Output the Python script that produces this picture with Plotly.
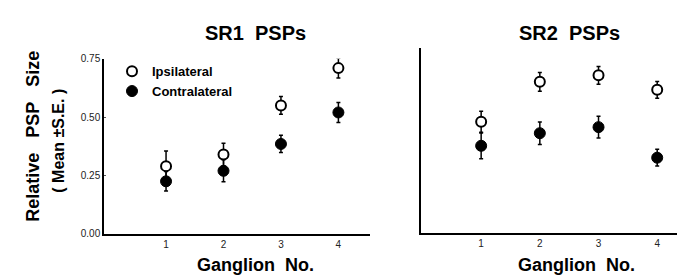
import plotly.graph_objects as go

ganglia = [1, 2, 3, 4]
tick_text = ["1", "2", "3", "4"]

sr1_ipsi = [0.29, 0.34, 0.55, 0.71]
sr1_ipsi_se = [0.065, 0.048, 0.038, 0.042]
sr1_contra = [0.225, 0.27, 0.385, 0.52]
sr1_contra_se = [0.042, 0.047, 0.037, 0.043]

sr2_ipsi = [0.476, 0.647, 0.675, 0.613]
sr2_ipsi_se = [0.045, 0.04, 0.038, 0.036]
sr2_contra = [0.373, 0.427, 0.453, 0.322]
sr2_contra_se = [0.055, 0.048, 0.047, 0.036]

W, H = 685, 275
FONT = "Liberation Sans, Arial, sans-serif"

def px_x(p):
    return p / W

def px_y(p):
    return 1 - p / H

fig = go.Figure()

def add_pair(ipsi, ipsi_se, contra, contra_se, xa, ya, show):
    fig.add_trace(go.Scatter(
        x=ganglia, y=ipsi, mode="markers", name="<b>Ipsilateral</b>",
        xaxis=xa, yaxis=ya, showlegend=show,
        marker=dict(symbol="circle", size=10, color="white",
                    line=dict(color="black", width=2)),
        error_y=dict(type="data", array=ipsi_se, color="black", thickness=1.5, width=2),
    ))
    fig.add_trace(go.Scatter(
        x=ganglia, y=contra, mode="markers", name="<b>Contralateral</b>",
        xaxis=xa, yaxis=ya, showlegend=show,
        marker=dict(symbol="circle", size=11, color="black",
                    line=dict(color="black", width=1)),
        error_y=dict(type="data", array=contra_se, color="black", thickness=1.5, width=2),
    ))

add_pair(sr1_ipsi, sr1_ipsi_se, sr1_contra, sr1_contra_se, "x", "y", True)
add_pair(sr2_ipsi, sr2_ipsi_se, sr2_contra, sr2_contra_se, "x2", "y2", False)

axis_common = dict(showgrid=False, zeroline=False, showline=True, linecolor="black",
                   linewidth=1.5, tickfont=dict(family=FONT, size=10, color="#222"))

fig.update_layout(
    width=W, height=H,
    margin=dict(l=0, r=0, t=0, b=0),
    paper_bgcolor="white", plot_bgcolor="white",
    showlegend=True,
    legend=dict(x=px_x(104), y=px_y(45), xanchor="left", yanchor="top",
                bgcolor="rgba(0,0,0,0)", font=dict(family=FONT, size=13, color="black"),
                itemwidth=30, tracegroupgap=0),
    xaxis=dict(domain=[px_x(96), px_x(362)], range=[-0.08, 4.55],
               tickvals=ganglia, ticktext=tick_text, ticks="", **axis_common),
    yaxis=dict(domain=[px_y(230), px_y(47.7)], range=[0, 0.75],
               tickvals=[0, 0.25, 0.5, 0.75], ticktext=["0.00", "0.25", "0.50", "0.75"],
               ticks="inside", ticklen=2, tickcolor="#555", **axis_common),
    xaxis2=dict(domain=[px_x(412.7), 1.0], range=[-0.03, 4.61], anchor="y2",
                tickvals=ganglia, ticktext=tick_text, ticks="", **axis_common),
    yaxis2=dict(domain=[px_y(229), px_y(36)], range=[0, 0.794], anchor="x2",
                showticklabels=False, ticks="", **axis_common),
)

ann_font = dict(family=FONT, color="black")
sp = "\u00a0"
annotations = [
    dict(text=f"<b>SR1{sp*2}PSPs</b>", x=px_x(247), y=px_y(21), font=dict(size=20, **ann_font)),
    dict(text=f"<b>SR2{sp*2}PSPs</b>", x=px_x(561), y=px_y(21), font=dict(size=20, **ann_font)),
    dict(text=f"<b>Ganglion{sp*2}No.</b>", x=px_x(247), y=px_y(262), font=dict(size=18, **ann_font)),
    dict(text=f"<b>Ganglion{sp*2}No.</b>", x=px_x(568), y=px_y(262), font=dict(size=18, **ann_font)),
    dict(text=f"<b>Relative{sp*3}PSP{sp*3}Size</b>", x=px_x(25), y=px_y(129), textangle=-90,
         font=dict(size=18, **ann_font)),
    dict(text=f"<b>({sp}Mean{sp}\u00b1S.E.{sp})</b>", x=px_x(51), y=px_y(133), textangle=-90,
         font=dict(size=16, **ann_font)),
]
for a in annotations:
    a.update(xref="paper", yref="paper", showarrow=False, xanchor="center", yanchor="middle")
fig.update_layout(annotations=annotations)

fig.write_html("out.html")
